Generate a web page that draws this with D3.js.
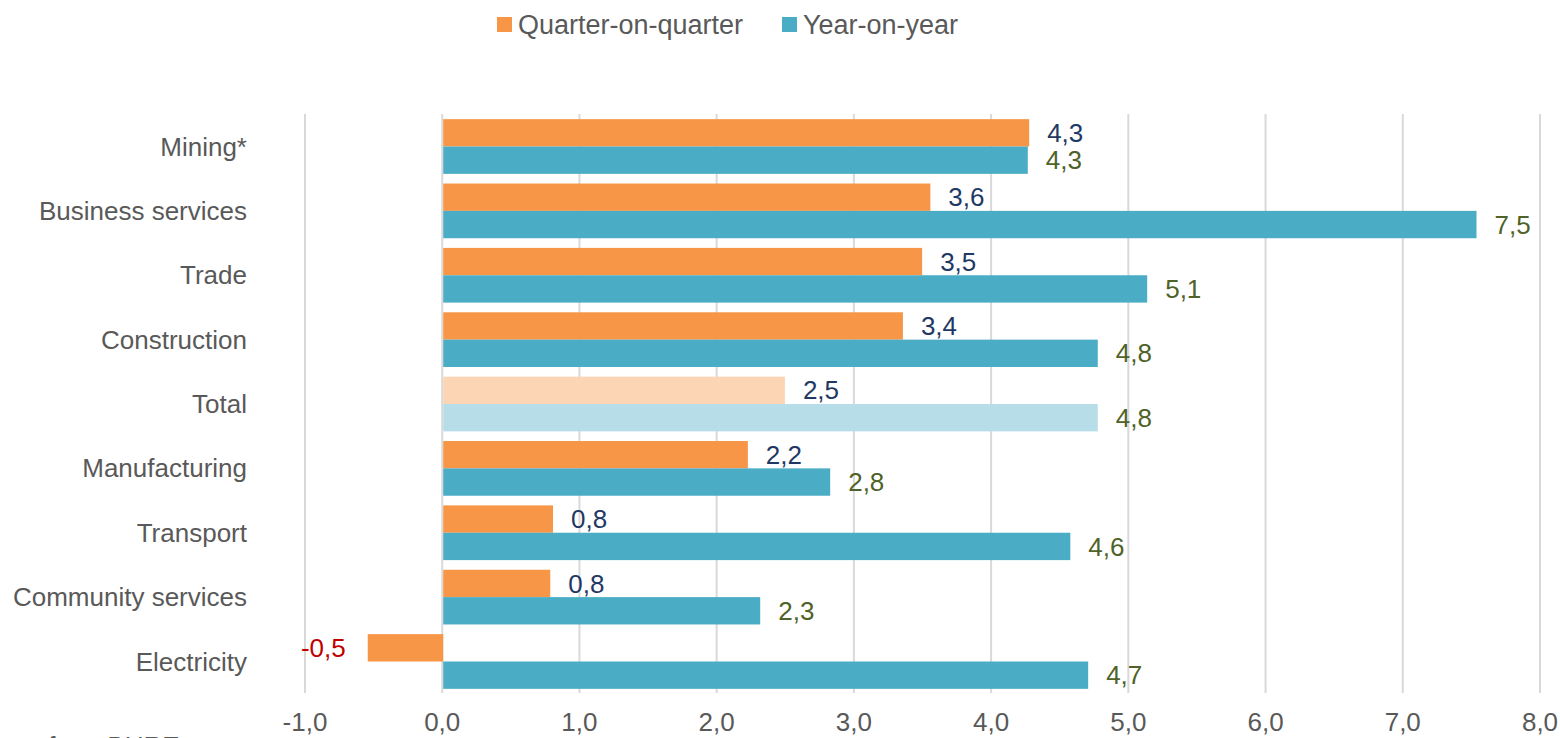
<!DOCTYPE html>
<html>
<head>
<meta charset="utf-8">
<script src="https://cdn.jsdelivr.net/npm/d3@7"></script>
<style>
  body { margin: 0; background: #fff; }
  svg { font-family: "Liberation Sans", Arial, sans-serif; display: block; }
</style>
</head>
<body>
<svg id="chart" width="1560" height="738"></svg>
<script>
const categories = ['Mining*', 'Business services', 'Trade', 'Construction', 'Total',
  'Manufacturing', 'Transport', 'Community services', 'Electricity'];
const qoqValues = [4.27, 3.55, 3.49, 3.35, 2.49, 2.22, 0.80, 0.78, -0.55];
const yoyValues = [4.26, 7.53, 5.13, 4.77, 4.77, 2.82, 4.57, 2.31, 4.70];
const qoqLabels = ['4,3', '3,6', '3,5', '3,4', '2,5', '2,2', '0,8', '0,8', '-0,5'];
const yoyLabels = ['4,3', '7,5', '5,1', '4,8', '4,8', '2,8', '4,6', '2,3', '4,7'];
const xTicks = [-1, 0, 1, 2, 3, 4, 5, 6, 7, 8];
const seriesNames = ['Quarter-on-quarter', 'Year-on-year'];

const ORANGE = '#F79646', BLUE = '#4BACC6';
const ORANGE_LIGHT = '#FCD5B5', BLUE_LIGHT = '#B7DEE8';
const TEXT_GREY = '#595959';

const svg = d3.select('#chart');

const x = d3.scaleLinear().domain([-1, 8]).range([305, 1540]);
const y = d3.scaleBand().domain(categories).range([114, 694])
  .paddingInner(0.15).paddingOuter(0.08);
const sub = d3.scaleBand().domain(['qoq', 'yoy']).range([0, y.bandwidth()]);

// gridlines
svg.append('g')
  .selectAll('line')
  .data(xTicks)
  .enter()
  .append('line')
  .attr('x1', d => x(d)).attr('x2', d => x(d))
  .attr('y1', 114).attr('y2', 693)
  .attr('stroke', '#D9D9D9')
  .attr('stroke-width', 2);

// x tick labels (comma decimals, plain hyphen for minus)
svg.append('g')
  .selectAll('text')
  .data(xTicks)
  .enter()
  .append('text')
  .attr('x', d => x(d))
  .attr('y', 731)
  .attr('text-anchor', 'middle')
  .attr('font-size', '26px')
  .attr('fill', TEXT_GREY)
  .text(d => d.toFixed(1).replace('.', ','));

// category labels
svg.append('g')
  .selectAll('text')
  .data(categories)
  .enter()
  .append('text')
  .attr('x', 247)
  .attr('y', d => y(d) + y.bandwidth() / 2)
  .attr('dy', '0.35em')
  .attr('text-anchor', 'end')
  .attr('font-size', '26px')
  .attr('fill', TEXT_GREY)
  .text(d => d);

const rows = categories.map((c, i) => ({
  cat: c, qoq: qoqValues[i], yoy: yoyValues[i],
  qoqLabel: qoqLabels[i], yoyLabel: yoyLabels[i]
}));

function drawSeries(key, color, lightColor, labelColor) {
  const g = svg.append('g');
  g.selectAll('rect')
    .data(rows)
    .enter()
    .append('rect')
    .attr('x', d => x(Math.min(0, d[key])) + 1)
    .attr('y', d => y(d.cat) + sub(key))
    .attr('width', d => Math.abs(x(d[key]) - x(0)))
    .attr('height', sub.bandwidth())
    .attr('fill', d => d.cat === 'Total' ? lightColor : color);

  g.selectAll('text')
    .data(rows)
    .enter()
    .append('text')
    .attr('x', d => d[key] < 0 ? x(d[key]) - 21 : x(d[key]) + 19)
    .attr('y', d => y(d.cat) + sub(key) + sub.bandwidth() / 2)
    .attr('dy', '0.35em')
    .attr('text-anchor', d => d[key] < 0 ? 'end' : 'start')
    .attr('font-size', '26px')
    .attr('fill', d => d[key] < 0 ? '#C00000' : labelColor)
    .text(d => d[key + 'Label']);
}

drawSeries('qoq', ORANGE, ORANGE_LIGHT, '#1F3864');
drawSeries('yoy', BLUE, BLUE_LIGHT, '#4F6228');

// legend
const legend = svg.append('g');
const legendX = [497, 782];
seriesNames.forEach((name, i) => {
  legend.append('rect')
    .attr('x', legendX[i]).attr('y', 17)
    .attr('width', 15).attr('height', 15)
    .attr('fill', i === 0 ? ORANGE : BLUE);
  legend.append('text')
    .attr('x', legendX[i] + 21).attr('y', 25)
    .attr('dy', '0.35em')
    .attr('font-size', '27px')
    .attr('fill', TEXT_GREY)
    .text(name);
});

// source note, only its top edge shows at the bottom as in the original
svg.append('text')
  .attr('x', -14).attr('y', 755)
  .attr('font-size', '26px')
  .attr('fill', TEXT_GREY)
  .text('Data from BURE');
</script>
</body>
</html>
